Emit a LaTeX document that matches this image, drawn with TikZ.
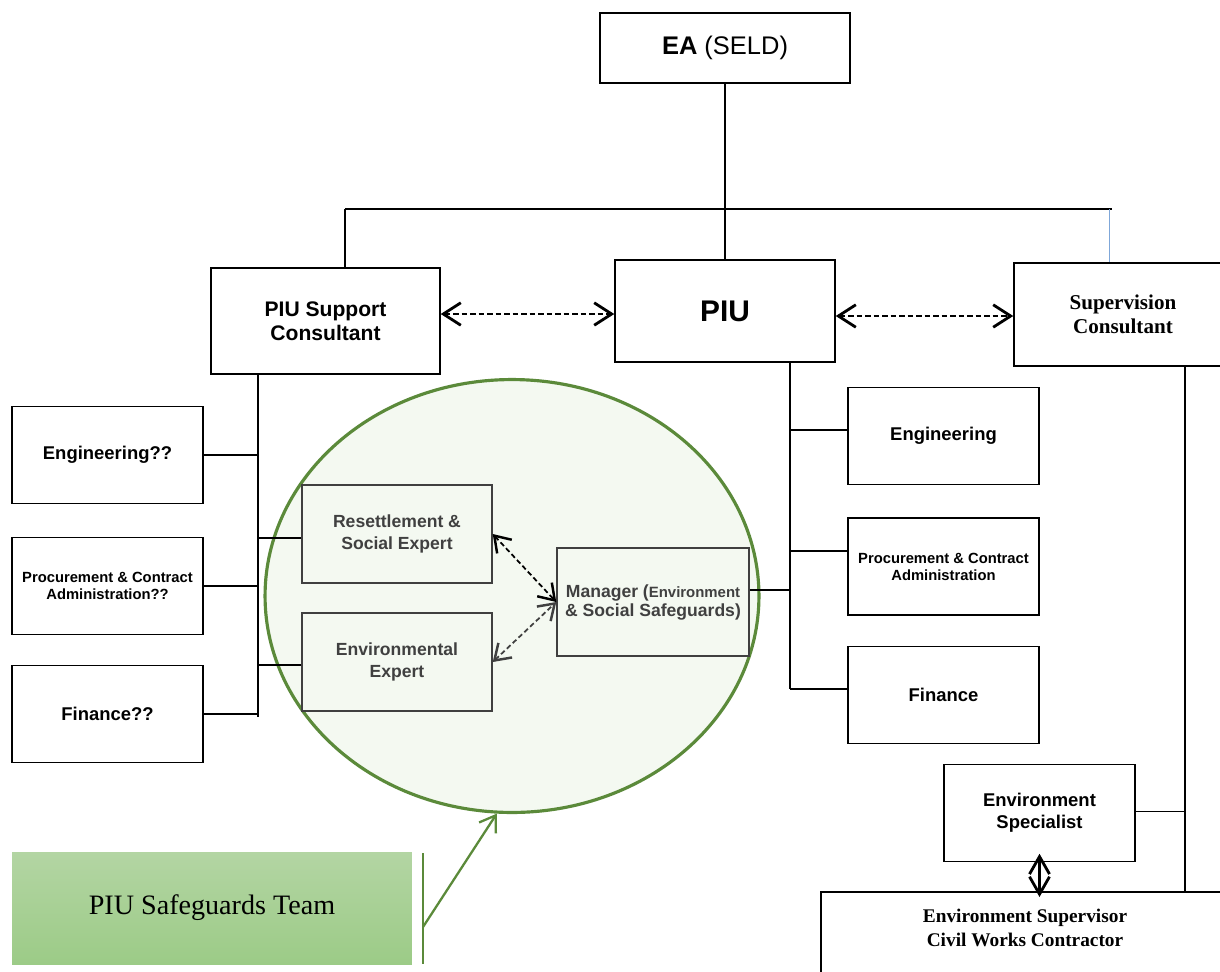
\documentclass[tikz,border=0pt]{standalone}
\usepackage{fontspec}
\setmainfont{Liberation Sans}
\newfontfamily\timesfont{Liberation Serif}
\usetikzlibrary{arrows.meta,shapes.geometric}

\definecolor{teamgreen}{HTML}{5B8A3A}
\definecolor{teamfill}{HTML}{F4F9F1}
\definecolor{innergray}{HTML}{404040}
\definecolor{shadetop}{HTML}{B3D5A3}
\definecolor{shadebot}{HTML}{9CCB87}
\definecolor{linkblue}{HTML}{7FA7D9}

\begin{document}
\begin{tikzpicture}[x=0.02cm, y=-0.02cm, line width=0.85pt,
  box/.style={draw, rectangle, align=center, inner sep=2pt},
  unitbox/.style={box, minimum width=3.82cm, minimum height=1.94cm},
  innerbox/.style={draw=innergray, fill=teamfill, text=innergray, rectangle, align=center,
    font=\fontsize{10}{12.5}\selectfont\bfseries, minimum width=3.8cm, minimum height=1.96cm},
  spine/.style={line width=1.2pt},
  link/.style={dash pattern=on 1.1mm off 0.6mm, line width=1.2pt,
    {Straight Barb[length=3.5mm,width=4.5mm,line width=1.6pt]}-{Straight Barb[length=3.5mm,width=4.5mm,line width=1.6pt]}},
  smalllink/.style={dash pattern=on 1mm off 0.6mm, line width=1pt,
    {Straight Barb[length=3mm,width=4mm,line width=1.4pt]}-{Straight Barb[length=3mm,width=4mm,line width=1.4pt]}}
]
  \useasboundingbox (0,0) rectangle (1220,971);

  % Top level
  \node[box, minimum width=5cm, minimum height=1.4cm, font=\fontsize{14.5}{17}\selectfont] (ea) at (725,48) {\textbf{EA} (SELD)};
  \node[box, minimum width=4.58cm, minimum height=2.12cm, font=\fontsize{12}{13.6}\selectfont\bfseries] (psc) at (325.5,321) {PIU Support\\Consultant};
  \node[box, minimum width=4.4cm, minimum height=2.04cm, font=\fontsize{17}{20}\selectfont\bfseries] (piu) at (725,311) {PIU};
  \node[box, minimum width=4.36cm, minimum height=2.06cm, font=\timesfont\fontsize{12}{13.6}\selectfont\bfseries] (sc) at (1123,314.5) {Supervision\\Consultant};

  % Bus
  \coordinate (busL) at (345,209);
  \coordinate (busR) at (1112,209);
  \coordinate (busS) at (1109,209);
  \draw (ea.south) -- (piu.north);
  \draw (busL) -- (busR);
  \draw (busL) -- (busL |- psc.north);
  \draw[linkblue, line width=0.5pt] (busS) -- (busS |- sc.north);

  \draw[link] ([yshift=-0.06cm]piu.west -| psc.east) -- ([yshift=-0.06cm]piu.west);
  \draw[link] ([yshift=-0.1cm]piu.east) -- ([yshift=-0.1cm]piu.east -| sc.west);

  % Support consultant units
  \node[unitbox, font=\fontsize{10.5}{12.5}\selectfont\bfseries] (eng1) at (107.5,455) {Engineering??};
  \node[unitbox, font=\fontsize{8.4}{9.6}\selectfont\bfseries] (proc1) at (107.5,586) {Procurement \& Contract\\Administration??};
  \node[unitbox, font=\fontsize{10.5}{12.5}\selectfont\bfseries] (fin1) at (107.5,714) {Finance??};

  \coordinate (lspT) at (258,373);
  \coordinate (lspB) at (258,717);
  \draw[spine] (lspT) -- (lspB);
  \draw (eng1.east) -- (eng1.east -| lspT);
  \draw (proc1.east) -- (proc1.east -| lspT);
  \draw (fin1.east) -- (fin1.east -| lspT);

  % Safeguards team
  \node[ellipse, draw=teamgreen, fill=teamfill, line width=1.8pt, minimum width=9.88cm, minimum height=8.66cm] (team) at (512,596) {};
  \node[innerbox] (res) at (397,534) {Resettlement \&\\Social Expert};
  \node[innerbox] (env) at (397,662) {Environmental\\Expert};
  \node[innerbox, minimum width=3.84cm, minimum height=2.16cm, font=\fontsize{10}{10.8}\selectfont\bfseries] (mgr) at (653,602) {Manager (\fontsize{8.5}{10.8}\selectfont Environment\\\& Social Safeguards)};

  \draw ([yshift=-0.08cm]res.west) -- ([yshift=-0.08cm]res.west -| lspT);
  \draw ([yshift=-0.06cm]env.west) -- ([yshift=-0.06cm]env.west -| lspT);
  \draw[smalllink] (res.east) -- (mgr.west);
  \draw[smalllink, innergray] (env.east) -- (mgr.west);

  % PIU units
  \node[unitbox, font=\fontsize{10.5}{12.5}\selectfont\bfseries] (eng2) at (943.5,436) {Engineering};
  \node[unitbox, font=\fontsize{8.4}{9.6}\selectfont\bfseries] (proc2) at (943.5,566.5) {Procurement \& Contract\\Administration};
  \node[unitbox, font=\fontsize{10.5}{12.5}\selectfont\bfseries] (fin2) at (943.5,695) {Finance};

  \coordinate (rspT) at (790,362);
  \coordinate (rspB) at (790,689);
  \draw[spine] (rspT) -- (rspB);
  \draw ([yshift=0.12cm]eng2.west) -- ([yshift=0.12cm]eng2.west -| rspT);
  \draw ([yshift=0.31cm]proc2.west) -- ([yshift=0.31cm]proc2.west -| rspT);
  \draw ([yshift=0.12cm]fin2.west) -- ([yshift=0.12cm]fin2.west -| rspT);
  \draw ([yshift=0.24cm]mgr.east) -- ([yshift=0.24cm]mgr.east -| rspT);

  % Supervision side
  \node[unitbox, font=\fontsize{10.5}{12.5}\selectfont\bfseries] (envsp) at (1039.5,813) {Environment\\Specialist};
  \node[draw, minimum width=8.3cm, minimum height=2.2cm, anchor=north west] (esup) at (820,891) {};
  \node[font=\timesfont\fontsize{11}{13.6}\selectfont\bfseries, align=center] (esuptxt) at (1025,928) {Environment Supervisor\\Civil Works Contractor};

  \coordinate (sspT) at (1185,366);
  \coordinate (sspB) at (1185,893);
  \draw[spine] (sspT) -- (sspB);
  \draw ([yshift=0.03cm]envsp.east) -- ([yshift=0.03cm]envsp.east -| sspT);
  \draw[line width=1.4pt, {Straight Barb[length=3.5mm,width=4mm,line width=1.6pt]}-{Straight Barb[length=3.5mm,width=4mm,line width=1.6pt]}]
    ([yshift=0.17cm]envsp.south) -- ([yshift=-0.12cm]envsp.south |- esup.north);

  % Label
  \node[shade, top color=shadetop, bottom color=shadebot, minimum width=8cm, minimum height=2.24cm, font=\timesfont\fontsize{16}{19}\selectfont] (safe) at (212,908) {PIU Safeguards Team};
  \coordinate (brT) at (423,853);
  \coordinate (brB) at (423,964);
  \coordinate (brM) at (423,927);
  \draw[teamgreen, line width=1.3pt] (brT) -- (brB);
  \draw[teamgreen, line width=1.3pt, -{Straight Barb[length=3mm,width=4mm]}] (brM) -- (team.266);
\end{tikzpicture}
\end{document}
